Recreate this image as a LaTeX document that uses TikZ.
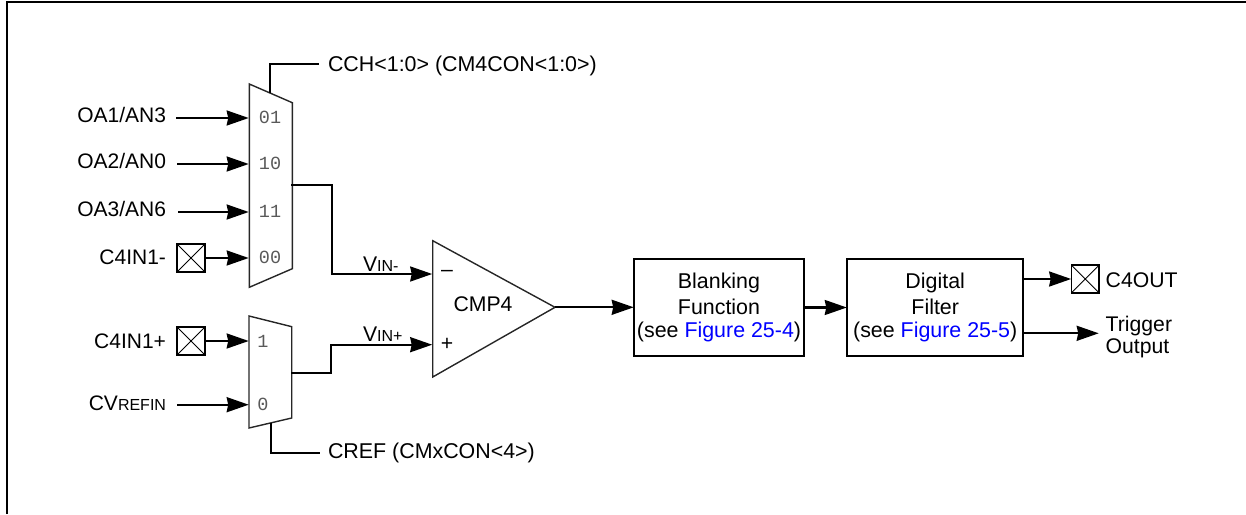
\documentclass[tikz,border=0pt]{standalone}
\usepackage{fontspec}
\setmainfont{Liberation Sans}
\newfontfamily\muxfont{Liberation Mono}
\usetikzlibrary{arrows.meta}
\definecolor{linkblue}{RGB}{0,0,255}
\newcommand{\smalltxt}[1]{{\fontsize{16}{18}\selectfont #1}}
\newcommand{\figlink}[1]{\textcolor{linkblue}{#1}}
\tikzset{
  x=1pt,y=-1pt,
  lbl/.style={inner sep=0pt,outer sep=0pt,font=\fontsize{21.2}{24}\selectfont,text=black},
  lblr/.style={lbl,anchor=base east,font=\fontsize{21}{24}\selectfont},
  lbll/.style={lbl,anchor=base west},
  lblc/.style={lbl,anchor=base},
  muxtxt/.style={inner sep=0pt,anchor=base,font=\muxfont\fontsize{18.5}{20}\selectfont,text=black!65},
  wire/.style={draw=black,line width=2.1pt},
  sig/.style={wire,-{Stealth[length=22pt,width=15pt,inset=1.5pt]},shorten >=0.3pt},
  thin outline/.style={draw=black!85,line width=1.4pt,line join=miter},
  blockbox/.style={draw=black,line width=2.1pt,minimum width=170pt,minimum height=97pt,inner sep=0pt,outer sep=0pt,align=center,font=\fontsize{21.4}{24.6}\selectfont,text=black},
  pad/.style={draw=black,line width=1.8pt,minimum size=27.5pt,inner sep=0pt,outer sep=0pt,
    path picture={\draw[line width=0.9pt] (path picture bounding box.north west)--(path picture bounding box.south east)
      (path picture bounding box.north east)--(path picture bounding box.south west);}},
}
\begin{document}
\begin{tikzpicture}
\useasboundingbox (0,0) rectangle (1246,514);
% frame
\coordinate (frameBL) at (7,514);
\coordinate (frameTL) at (7,2);
\coordinate (frameTR) at (1246,2);
\draw[wire] (frameBL) -- (frameTL) -- (frameTR);

% multiplexers
\coordinate (m1a) at (249.3,84);
\coordinate (m1b) at (292.3,102.7);
\coordinate (m1c) at (292.3,268.7);
\coordinate (m1d) at (249.3,287.3);
\draw[thin outline] (m1a) -- (m1b) -- (m1c) -- (m1d) -- cycle;
\coordinate (m2a) at (249,316);
\coordinate (m2b) at (291.7,326.7);
\coordinate (m2c) at (291.7,418);
\coordinate (m2d) at (249,428);
\draw[thin outline] (m2a) -- (m2b) -- (m2c) -- (m2d) -- cycle;

\node[muxtxt] (d01) at (270,123) {01};
\node[muxtxt] (d10) at (270,169.5) {10};
\node[muxtxt] (d11) at (270,217.5) {11};
\node[muxtxt] (d00) at (270,263.5) {00};
\node[muxtxt] (d1) at (263,347) {1};
\node[muxtxt] (d0) at (263,410.5) {0};

% comparator
\coordinate (c1) at (432.7,240.7);
\coordinate (c2) at (555,307.3);
\coordinate (c3) at (432.7,377);
\draw[thin outline] (c1) -- (c2) -- (c3) -- cycle;
\node[lblc] (cmp) at (483,311.5) {CMP4};
\node[lbl] (minus) at (447,273.5) {--};
\node[lbl] (plus) at (447,344.7) {+};

% blocks
\node[blockbox] (blank) at (719,307.5) {Blanking\\[1.5pt]Function\\[-1.5pt](see \figlink{Figure 25-4})};
\node[blockbox,minimum width=176.3pt] (filter) at (935.2,307.5) {Digital\\[1.5pt]Filter\\[-1.5pt](see \figlink{Figure 25-5})};

% pads
\node[pad] (padA) at (191,258) {};
\node[pad] (padB) at (191,341) {};
\node[pad] (padC) at (1085.2,279) {};

% labels
\node[lblr] (oa1) at (166,122) {OA1/AN3};
\node[lblr] (oa2) at (166,168) {OA2/AN0};
\node[lblr] (oa3) at (166,216.5) {OA3/AN6};
\node[lblr] (cin1m) at (166,264.5) {C4IN1-};
\node[lblr] (cin1p) at (166,348) {C4IN1+};
\node[lblr] (cvref) at (166,410.5) {CV\smalltxt{REFIN}};
\node[lbll,font=\fontsize{21.4}{24}\selectfont] (cch) at (328,71) {CCH<1:0> (CM4CON<1:0>)};
\node[lbll,font=\fontsize{21.4}{24}\selectfont] (cref) at (328,458) {CREF (CMxCON<4>)};
\node[lbll] (vinm) at (363,271) {V\smalltxt{IN-}};
\node[lbll] (vinp) at (363,341) {V\smalltxt{IN+}};
\node[lbll] (c4out) at (1105.7,287) {C4OUT};
\node[lbll] (trig1) at (1105.7,331) {Trigger};
\node[lbll] (trig2) at (1105.7,353) {Output};

% anchors on shapes
\coordinate (s1) at (176,118);
\coordinate (s2) at (177,164);
\coordinate (s3) at (178,212);
\coordinate (s4) at (177,404.7);
\coordinate (i1) at (249,118);
\coordinate (i2) at (249,164);
\coordinate (i3) at (249,212);
\coordinate (i4) at (249,258);
\coordinate (i5) at (249,341);
\coordinate (i6) at (249,404.7);
\coordinate (ctl1) at (270,93);
\coordinate (ctl1k) at (270,64);
\coordinate (ctl1e) at (319,64);
\coordinate (ctl2) at (271,423);
\coordinate (ctl2k) at (271,453);
\coordinate (ctl2e) at (319.7,453);
\coordinate (o1) at (291,184.7);
\coordinate (o1k1) at (332,184.7);
\coordinate (o1k2) at (332,274);
\coordinate (cm) at (432.5,274);
\coordinate (o2) at (291,372.7);
\coordinate (o2k1) at (331,372.7);
\coordinate (o2k2) at (331,344.7);
\coordinate (cp) at (432.5,344.7);
\coordinate (fo2) at (filter.east |- 0,333.3);
\coordinate (fo1) at (filter.east |- padC);
\coordinate (trigend) at (1099,333.3);

% connectors
\draw[sig] (s1) -- (i1);
\draw[sig] (s2) -- (i2);
\draw[sig] (s3) -- (i3);
\draw[sig] (padA) -- (i4);
\draw[sig] (padB) -- (i5);
\draw[sig] (s4) -- (i6);
\draw[wire] (ctl1) -- (ctl1k) -- (ctl1e);
\draw[wire] (ctl2) -- (ctl2k) -- (ctl2e);
\draw[sig] (o1) -- (o1k1) -- (o1k2) -- (cm);
\draw[sig] (o2) -- (o2k1) -- (o2k2) -- (cp);
\draw[sig] (c2) -- (blank.west |- c2);
\draw[sig] (blank) -- (filter);
\draw[sig] (fo1) -- (padC);
\draw[sig] (fo2) -- (trigend);
\end{tikzpicture}
\end{document}
